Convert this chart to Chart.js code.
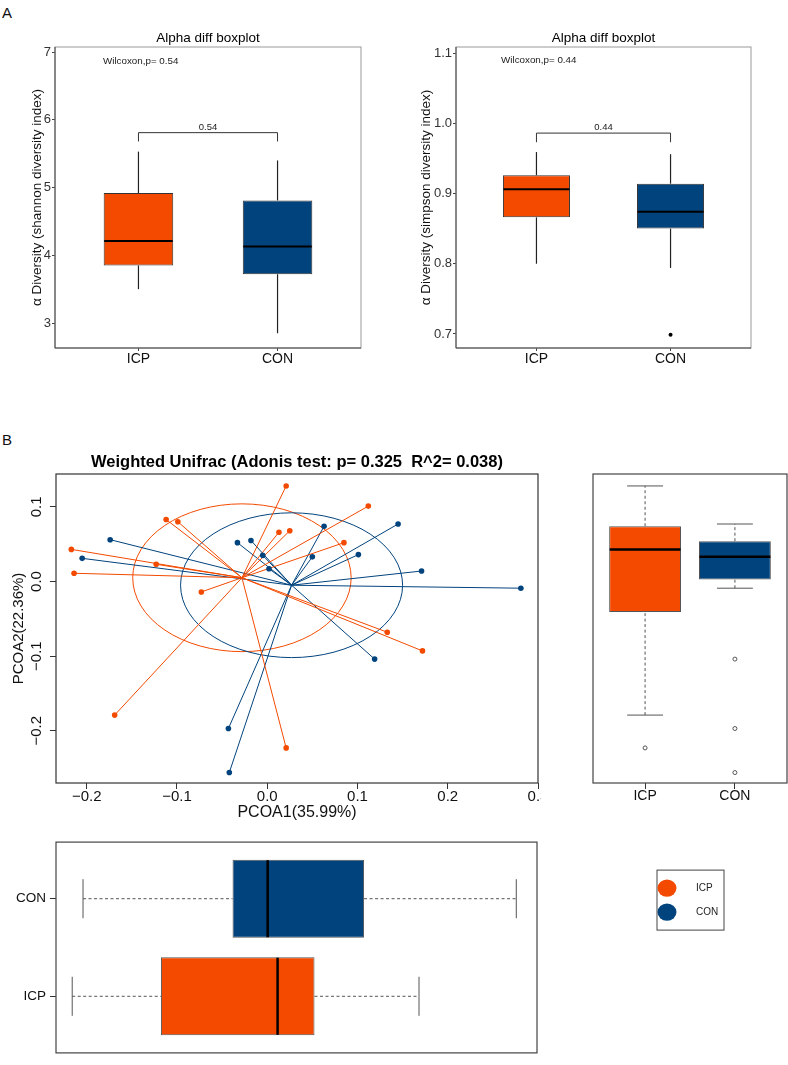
<!DOCTYPE html>
<html>
<head>
<meta charset="utf-8">
<title>Alpha diversity and PCoA</title>
<script src="https://cdn.jsdelivr.net/npm/chart.js@4.4.1/dist/chart.umd.min.js"></script>
<style>
  body { margin: 0; width: 788px; height: 1065px; position: relative; background: #fff; overflow: hidden;
         font-family: 'Liberation Sans', Arial, Helvetica, sans-serif; }
  canvas { position: absolute; }
  .tag { position: absolute; font-size: 15px; line-height: 15px; color: #111; }
</style>
</head>
<body>
<div class="tag" style="left:2px; top:5px;">A</div>
<div class="tag" style="left:2px; top:432px;">B</div>
<canvas id="shannonChart" width="394" height="353" style="left:0; top:20px;"></canvas>
<canvas id="simpsonChart" width="394" height="353" style="left:394px; top:20px;"></canvas>
<canvas id="pcoaChart" width="552" height="385" style="left:0; top:440px; clip-path: inset(0 11px 0 0);"></canvas>
<canvas id="pc2Chart" width="238" height="370" style="left:550px; top:440px;"></canvas>
<canvas id="pc1Chart" width="788" height="235" style="left:0; top:830px;"></canvas>

<script>
// ---- data ----
const groups = ['ICP', 'CON'];
const groupColors = ['#F34A00', '#00437D'];

// A: shannon index boxes
const shannonLow = [3.50, 2.85];
const shannonQ1 = [3.85, 3.72];
const shannonMedian = [4.21, 4.13];
const shannonQ3 = [4.92, 4.81];
const shannonHigh = [5.53, 5.40];
const shannonOutliers = [[], []];
const shannonTicks = [3, 4, 5, 6, 7];

// A: simpson index boxes
const simpsonLow = [0.800, 0.794];
const simpsonQ1 = [0.866, 0.850];
const simpsonMedian = [0.906, 0.874];
const simpsonQ3 = [0.926, 0.914];
const simpsonHigh = [0.959, 0.956];
const simpsonOutliers = [[], [0.699]];
const simpsonTicks = [0.7, 0.8, 0.9, 1.0, 1.1];

const wilcoxonP = ['0.54', '0.44'];

// B: PCoA sample scores
const icpPC1 = [0.021, 0.112, -0.112, -0.099, 0.013, 0.025, 0.085, -0.217, -0.123, -0.214, -0.073, 0.133, 0.172, -0.169, 0.021];
const icpPC2 = [0.128, 0.101, 0.083, 0.080, 0.066, 0.068, 0.052, 0.043, 0.023, 0.011, -0.014, -0.068, -0.093, -0.179, -0.223];
const conPC1 = [0.145, 0.063, -0.174, -0.033, -0.018, -0.005, 0.050, 0.101, -0.205, 0.002, 0.171, 0.281, 0.119, -0.043, -0.042];
const conPC2 = [0.077, 0.074, 0.056, 0.052, 0.055, 0.035, 0.033, 0.036, 0.031, 0.017, 0.014, -0.009, -0.104, -0.197, -0.256];
const centroidPC1 = [-0.028, 0.027];
const centroidPC2 = [0.005, -0.005];
const ellipseRadiusPC1 = [0.121, 0.123];
const ellipseRadiusPC2 = [0.099, 0.097];
const pc1Ticks = [-0.2, -0.1, 0, 0.1, 0.2, 0.3];
const pc2Ticks = [-0.2, -0.1, 0, 0.1];

// B: PCOA2 boxes (right)
const pc2Low = [-0.179, -0.009];
const pc2Q1 = [-0.041, 0.0025];
const pc2Median = [0.043, 0.033];
const pc2Q3 = [0.074, 0.054];
const pc2High = [0.128, 0.077];
const pc2Outliers = [[-0.223], [-0.104, -0.197, -0.256]];

// B: PCOA1 boxes (bottom)
const pc1Low = [-0.216, -0.204];
const pc1Q1 = [-0.1175, -0.038];
const pc1Median = [0.012, 0.001];
const pc1Q3 = [0.053, 0.108];
const pc1High = [0.169, 0.277];

// ---- helpers ----
const FONT = "'Liberation Sans', Arial, Helvetica, sans-serif";
Chart.defaults.font.family = FONT;
Chart.defaults.color = '#111';

function fixedTicks(values) {
    return function(scale) { scale.ticks = values.map(v => ({ value: v })); };
}

function fixedSize(prop, size) {
    return function(scale) { scale[prop] = size; };
}

function decimal(v) {
    return v.toFixed(1).replace('-', '\u2212');
}

// frame around the plotting area
const framePlugin = {
    id: 'frame',
    afterDatasetsDraw(chart, args, o) {
        const { left, top, right, bottom } = chart.chartArea;
        const ctx = chart.ctx;
        ctx.save();
        ctx.lineWidth = o.width || 1;
        ctx.strokeStyle = o.color || '#333';
        ctx.strokeRect(left, top, right - left, bottom - top);
        if (o.axisColor) {
            ctx.strokeStyle = o.axisColor;
            ctx.beginPath();
            ctx.moveTo(left, top);
            ctx.lineTo(left, bottom);
            ctx.lineTo(right, bottom);
            ctx.stroke();
        }
        ctx.restore();
    }
};

// title centred over the plotting area
const panelTitlePlugin = {
    id: 'panelTitle',
    afterDraw(chart, args, o) {
        if (!o.text) return;
        const { left, right, top } = chart.chartArea;
        const ctx = chart.ctx;
        ctx.save();
        ctx.font = o.font;
        ctx.fillStyle = '#000';
        ctx.textAlign = 'center';
        ctx.textBaseline = 'alphabetic';
        ctx.fillText(o.text, (left + right) / 2, top - o.offset);
        ctx.restore();
    }
};

// text placed in data coordinates
const notesPlugin = {
    id: 'notes',
    afterDraw(chart, args, o) {
        if (!o.items) return;
        const ctx = chart.ctx;
        ctx.save();
        o.items.forEach(item => {
            ctx.font = item.font;
            ctx.fillStyle = '#222';
            ctx.textAlign = item.align || 'center';
            ctx.textBaseline = 'alphabetic';
            ctx.fillText(item.text, chart.scales.x.getPixelForValue(item.x), chart.scales.y.getPixelForValue(item.y));
        });
        ctx.restore();
    }
};

// significance bracket between the two groups
const bracketPlugin = {
    id: 'bracket',
    afterDraw(chart, args, o) {
        if (o.y === undefined) return;
        const x = chart.scales.x, y = chart.scales.y;
        const ctx = chart.ctx;
        const x1 = x.getPixelForValue(1), x2 = x.getPixelForValue(2);
        const yb = y.getPixelForValue(o.y), yt = y.getPixelForValue(o.tip);
        ctx.save();
        ctx.strokeStyle = '#333';
        ctx.lineWidth = 1;
        ctx.beginPath();
        ctx.moveTo(x1, yt);
        ctx.lineTo(x1, yb);
        ctx.lineTo(x2, yb);
        ctx.lineTo(x2, yt);
        ctx.stroke();
        ctx.font = '9.5px ' + FONT;
        ctx.fillStyle = '#222';
        ctx.textAlign = 'center';
        ctx.fillText(o.label, (x1 + x2) / 2, y.getPixelForValue(o.labelY));
        ctx.restore();
    }
};

// whiskers, caps and medians on top of the floating bars
const boxExtrasPlugin = {
    id: 'boxExtras',
    beforeDatasetsDraw(chart, args, o) {
        if (!o.low) return;
        const ctx = chart.ctx;
        const iScale = o.horizontal ? chart.scales.y : chart.scales.x;
        const vScale = o.horizontal ? chart.scales.x : chart.scales.y;
        const bars = chart.getDatasetMeta(0).data;
        const seg = (a1, b1, a2, b2) => {
            ctx.beginPath();
            if (o.horizontal) { ctx.moveTo(b1, a1); ctx.lineTo(b2, a2); }
            else { ctx.moveTo(a1, b1); ctx.lineTo(a2, b2); }
            ctx.stroke();
        };
        ctx.save();
        ctx.strokeStyle = o.whiskerColor;
        ctx.lineWidth = o.whiskerWidth;
        o.low.forEach((lo, i) => {
            const c = iScale.getPixelForValue(i + 1);
            const size = o.horizontal ? bars[i].height : bars[i].width;
            ctx.setLineDash(o.dash || []);
            seg(c, vScale.getPixelForValue(lo), c, vScale.getPixelForValue(o.q1[i]));
            seg(c, vScale.getPixelForValue(o.q3[i]), c, vScale.getPixelForValue(o.high[i]));
            if (o.capRatio) {
                ctx.setLineDash([]);
                const half = size * o.capRatio / 2;
                [lo, o.high[i]].forEach(v => {
                    const p = vScale.getPixelForValue(v);
                    seg(c - half, p, c + half, p);
                });
            }
        });
        ctx.restore();
    },
    afterDatasetsDraw(chart, args, o) {
        if (!o.median) return;
        const ctx = chart.ctx;
        const vScale = o.horizontal ? chart.scales.x : chart.scales.y;
        const bars = chart.getDatasetMeta(0).data;
        ctx.save();
        ctx.strokeStyle = '#000';
        ctx.lineWidth = o.medianWidth;
        o.median.forEach((m, i) => {
            const bar = bars[i];
            const p = vScale.getPixelForValue(m);
            ctx.beginPath();
            if (o.horizontal) {
                ctx.moveTo(p, bar.y - bar.height / 2 + 0.5);
                ctx.lineTo(p, bar.y + bar.height / 2 - 0.5);
            } else {
                ctx.moveTo(bar.x - bar.width / 2 + 0.5, p);
                ctx.lineTo(bar.x + bar.width / 2 - 0.5, p);
            }
            ctx.stroke();
        });
        ctx.restore();
    }
};

// group dispersion ellipses
const ellipsePlugin = {
    id: 'ellipses',
    beforeDatasetsDraw(chart, args, o) {
        if (!o.cx) return;
        const x = chart.scales.x, y = chart.scales.y;
        const ctx = chart.ctx;
        ctx.save();
        ctx.lineWidth = 1;
        o.cx.forEach((cx, i) => {
            const px = x.getPixelForValue(cx), py = y.getPixelForValue(o.cy[i]);
            const rx = Math.abs(x.getPixelForValue(cx + o.rx[i]) - px);
            const ry = Math.abs(y.getPixelForValue(o.cy[i] + o.ry[i]) - py);
            ctx.strokeStyle = o.colors[i];
            ctx.beginPath();
            ctx.ellipse(px, py, rx, ry, 0, 0, Math.PI * 2);
            ctx.stroke();
        });
        ctx.restore();
    }
};

// base-R style y tick labels, turned parallel to the axis
const rotatedYTicksPlugin = {
    id: 'rotatedYTicks',
    afterDraw(chart, args, o) {
        if (!o.gap) return;
        const y = chart.scales.y;
        const ctx = chart.ctx;
        const x = chart.chartArea.left - o.gap;
        ctx.save();
        ctx.font = o.font;
        ctx.fillStyle = '#111';
        ctx.textAlign = 'center';
        ctx.textBaseline = 'middle';
        y.ticks.forEach(t => {
            ctx.save();
            ctx.translate(x, y.getPixelForValue(t.value));
            ctx.rotate(-Math.PI / 2);
            ctx.fillText(decimal(t.value), 0, 0);
            ctx.restore();
        });
        ctx.restore();
    }
};

// legend box to the right of the bottom panel
const groupLegendPlugin = {
    id: 'groupLegend',
    afterDraw(chart, args, o) {
        if (!o.labels) return;
        const ctx = chart.ctx;
        const left = chart.chartArea.right + o.gap;
        const top = chart.chartArea.top + o.top;
        ctx.save();
        ctx.strokeStyle = '#444';
        ctx.lineWidth = 1;
        ctx.strokeRect(left, top, o.width, o.height);
        ctx.font = '10px ' + FONT;
        ctx.textAlign = 'left';
        ctx.textBaseline = 'middle';
        o.labels.forEach((label, i) => {
            const cy = top + 18 + i * 24;
            ctx.fillStyle = o.colors[i];
            ctx.beginPath();
            ctx.ellipse(left + 10, cy, 9.5, 8.7, 0, 0, Math.PI * 2);
            ctx.fill();
            ctx.fillStyle = '#222';
            ctx.fillText(label, left + 39, cy);
        });
        ctx.restore();
    }
};

Chart.register(framePlugin, panelTitlePlugin, notesPlugin, bracketPlugin, boxExtrasPlugin,
    ellipsePlugin, rotatedYTicksPlugin, groupLegendPlugin);

function boxBars(q1, q3, horizontal) {
    return groups.map((g, i) => horizontal ? { y: i + 1, x: [q1[i], q3[i]] } : { x: i + 1, y: [q1[i], q3[i]] });
}

function outlierPoints(lists, horizontal) {
    return lists.flatMap((list, i) => list.map(v => horizontal ? { y: i + 1, x: v } : { x: i + 1, y: v }));
}

/**
 * Alpha diversity boxplot (panel A)
 */
function alphaChart(id, s) {
    return new Chart(document.getElementById(id), {
        type: 'bar',
        data: {
            datasets: [{
                type: 'bar',
                data: boxBars(s.q1, s.q3, false),
                backgroundColor: groupColors,
                borderColor: '#333',
                borderWidth: 1,
                borderSkipped: false,
                categoryPercentage: 0.5,
                barPercentage: 1
            }, {
                type: 'scatter',
                data: outlierPoints(s.outliers, false),
                pointRadius: 2,
                backgroundColor: '#000',
                borderWidth: 0
            }]
        },
        options: {
            responsive: false,
            animation: false,
            events: [],
            layout: { autoPadding: false, padding: s.padding },
            plugins: {
                legend: { display: false },
                tooltip: { enabled: false },
                frame: { color: '#999', axisColor: '#444', width: 1 },
                panelTitle: { text: 'Alpha diff boxplot', font: '13.5px ' + FONT, offset: 5 },
                notes: { items: [{ text: 'Wilcoxon,p= ' + s.p, x: s.noteX, y: s.noteY, align: 'left', font: '9.8px ' + FONT }] },
                bracket: s.bracket,
                boxExtras: {
                    low: s.low, q1: s.q1, q3: s.q3, high: s.high, median: s.median,
                    whiskerColor: '#222', whiskerWidth: 1.2, medianWidth: 2
                }
            },
            scales: {
                x: {
                    type: 'linear', min: 0.4, max: 2.6, offset: false,
                    afterBuildTicks: fixedTicks([1, 2]),
                    afterFit: fixedSize('height', 25),
                    ticks: { callback: v => groups[v - 1], font: { size: 14, lineHeight: 1 }, padding: 1, color: '#111', maxRotation: 0 },
                    grid: { offset: false, drawOnChartArea: false, tickLength: 3, color: '#444' },
                    border: { display: false }
                },
                y: {
                    type: 'linear', min: s.min, max: s.max,
                    afterBuildTicks: fixedTicks(s.ticks),
                    afterFit: fixedSize('width', s.axisWidth),
                    ticks: { callback: s.format, font: { size: 13 }, padding: 1, color: '#333' },
                    grid: { drawOnChartArea: false, tickLength: 3, color: '#444' },
                    border: { display: false },
                    title: { display: true, text: s.title, font: { size: 13.5 }, padding: 0, color: '#111' }
                }
            }
        }
    });
}

alphaChart('shannonChart', {
    low: shannonLow, q1: shannonQ1, median: shannonMedian, q3: shannonQ3, high: shannonHigh,
    outliers: shannonOutliers, ticks: shannonTicks, min: 2.632, max: 7.074, p: wilcoxonP[0],
    format: v => String(v), title: '\u03b1 Diversity (shannon diversity index)',
    noteX: 0.745, noteY: 6.83,
    bracket: { y: 5.81, tip: 5.68, label: wilcoxonP[0], labelY: 5.85 },
    padding: { left: 29, right: 33, top: 27, bottom: 0 }, axisWidth: 26
});

alphaChart('simpsonChart', {
    low: simpsonLow, q1: simpsonQ1, median: simpsonMedian, q3: simpsonQ3, high: simpsonHigh,
    outliers: simpsonOutliers, ticks: simpsonTicks, min: 0.68, max: 1.1086, p: wilcoxonP[1],
    format: v => v.toFixed(1), title: '\u03b1 Diversity (simpson diversity index)',
    noteX: 0.736, noteY: 1.0857,
    bracket: { y: 0.986, tip: 0.973, label: wilcoxonP[1], labelY: 0.990 },
    padding: { left: 24, right: 37, top: 27, bottom: 0 }, axisWidth: 38
});

/**
 * PCoA scatter with spokes to the group centroids (panel B)
 */
const icpPoints = icpPC1.map((x, i) => ({ x: x, y: icpPC2[i] }));
const conPoints = conPC1.map((x, i) => ({ x: x, y: conPC2[i] }));

function spokes(points, g) {
    const c = { x: centroidPC1[g], y: centroidPC2[g] };
    return points.flatMap(p => [p, c, { x: c.x, y: null }]);
}

new Chart(document.getElementById('pcoaChart'), {
    type: 'scatter',
    data: {
        datasets: [
            { data: icpPoints, backgroundColor: groupColors[0], pointRadius: 2.8, borderWidth: 0, order: 0 },
            { data: conPoints, backgroundColor: groupColors[1], pointRadius: 2.8, borderWidth: 0, order: 0 },
            { data: spokes(icpPoints, 0), showLine: true, spanGaps: false, borderColor: groupColors[0], borderWidth: 1, pointRadius: 0, order: 1 },
            { data: spokes(conPoints, 1), showLine: true, spanGaps: false, borderColor: groupColors[1], borderWidth: 1, pointRadius: 0, order: 1 }
        ]
    },
    options: {
        responsive: false,
        animation: false,
        events: [],
        layout: { autoPadding: false, padding: { left: 10, right: 14, top: 34, bottom: 3 } },
        plugins: {
            legend: { display: false },
            tooltip: { enabled: false },
            frame: { color: '#333', width: 1.2 },
            panelTitle: { text: 'Weighted Unifrac (Adonis test: p= 0.325  R^2= 0.038)', font: 'bold 16.5px ' + FONT, offset: 7 },
            ellipses: { cx: centroidPC1, cy: centroidPC2, rx: ellipseRadiusPC1, ry: ellipseRadiusPC2, colors: groupColors },
            rotatedYTicks: { gap: 19, font: '15px ' + FONT }
        },
        scales: {
            x: {
                type: 'linear', min: -0.234, max: 0.300,
                afterBuildTicks: fixedTicks(pc1Ticks),
                afterFit: fixedSize('height', 39),
                ticks: { callback: decimal, font: { size: 15, lineHeight: 1 }, padding: 0, color: '#111', maxRotation: 0 },
                grid: { drawOnChartArea: false, tickLength: 6, color: '#333' },
                border: { display: false },
                title: { display: true, text: 'PCOA1(35.99%)', font: { size: 16 }, padding: 0, color: '#111' }
            },
            y: {
                type: 'linear', min: -0.270, max: 0.144,
                afterBuildTicks: fixedTicks(pc2Ticks),
                afterFit: fixedSize('width', 46),
                ticks: { display: false },
                grid: { drawOnChartArea: false, tickLength: 6, color: '#333' },
                border: { display: false },
                title: { display: true, text: 'PCOA2(22.36%)', font: { size: 15 }, padding: 0, color: '#111' }
            }
        }
    }
});

// PCOA2 by group (right)
new Chart(document.getElementById('pc2Chart'), {
    type: 'bar',
    data: {
        datasets: [{
            type: 'bar',
            data: boxBars(pc2Q1, pc2Q3, false),
            backgroundColor: groupColors,
            borderColor: '#555',
            borderWidth: 1,
            borderSkipped: false,
            categoryPercentage: 0.8,
            barPercentage: 1
        }, {
            type: 'scatter',
            data: outlierPoints(pc2Outliers, false),
            pointRadius: 2,
            backgroundColor: '#fff',
            borderColor: '#555',
            borderWidth: 1
        }]
    },
    options: {
        responsive: false,
        animation: false,
        events: [],
        layout: { autoPadding: false, padding: { left: 43, right: 1, top: 34, bottom: 2 } },
        plugins: {
            legend: { display: false },
            tooltip: { enabled: false },
            frame: { color: '#444', width: 1.2 },
            boxExtras: {
                low: pc2Low, q1: pc2Q1, q3: pc2Q3, high: pc2High, median: pc2Median,
                whiskerColor: '#555', whiskerWidth: 1, dash: [3, 2.5], capRatio: 0.5, medianWidth: 2.5
            }
        },
        scales: {
            x: {
                type: 'linear', min: 0.42, max: 2.58, offset: false,
                afterBuildTicks: fixedTicks([1, 2]),
                afterFit: fixedSize('height', 25),
                ticks: { callback: v => groups[v - 1], font: { size: 14, lineHeight: 1 }, padding: 0, color: '#111', maxRotation: 0 },
                grid: { offset: false, drawOnChartArea: false, tickLength: 6, color: '#333' },
                border: { display: false }
            },
            y: { type: 'linear', min: -0.270, max: 0.144, display: false }
        }
    }
});

// PCOA1 by group (bottom) with the legend
new Chart(document.getElementById('pc1Chart'), {
    type: 'bar',
    data: {
        datasets: [{
            type: 'bar',
            data: boxBars(pc1Q1, pc1Q3, true),
            backgroundColor: groupColors,
            borderColor: '#555',
            borderWidth: 1,
            borderSkipped: false,
            categoryPercentage: 0.8,
            barPercentage: 1
        }]
    },
    options: {
        indexAxis: 'y',
        responsive: false,
        animation: false,
        events: [],
        layout: { autoPadding: false, padding: { left: 10, right: 251, top: 9, bottom: 2 } },
        plugins: {
            legend: { display: false },
            tooltip: { enabled: false },
            frame: { color: '#444', width: 1.2 },
            boxExtras: {
                horizontal: true,
                low: pc1Low, q1: pc1Q1, q3: pc1Q3, high: pc1High, median: pc1Median,
                whiskerColor: '#555', whiskerWidth: 1, dash: [3, 2.5], capRatio: 0.5, medianWidth: 2.5
            },
            groupLegend: { labels: groups, colors: groupColors, gap: 120, top: 28, width: 67, height: 60 }
        },
        scales: {
            y: {
                type: 'linear', min: 0.42, max: 2.58, offset: false,
                afterBuildTicks: fixedTicks([1, 2]),
                afterFit: fixedSize('width', 46),
                ticks: { callback: v => groups[v - 1], font: { size: 13.5 }, padding: 4, color: '#111' },
                grid: { offset: false, drawOnChartArea: false, tickLength: 6, color: '#333' },
                border: { display: false }
            },
            x: { type: 'linear', min: -0.234, max: 0.300, display: false }
        }
    }
});
</script>
</body>
</html>
